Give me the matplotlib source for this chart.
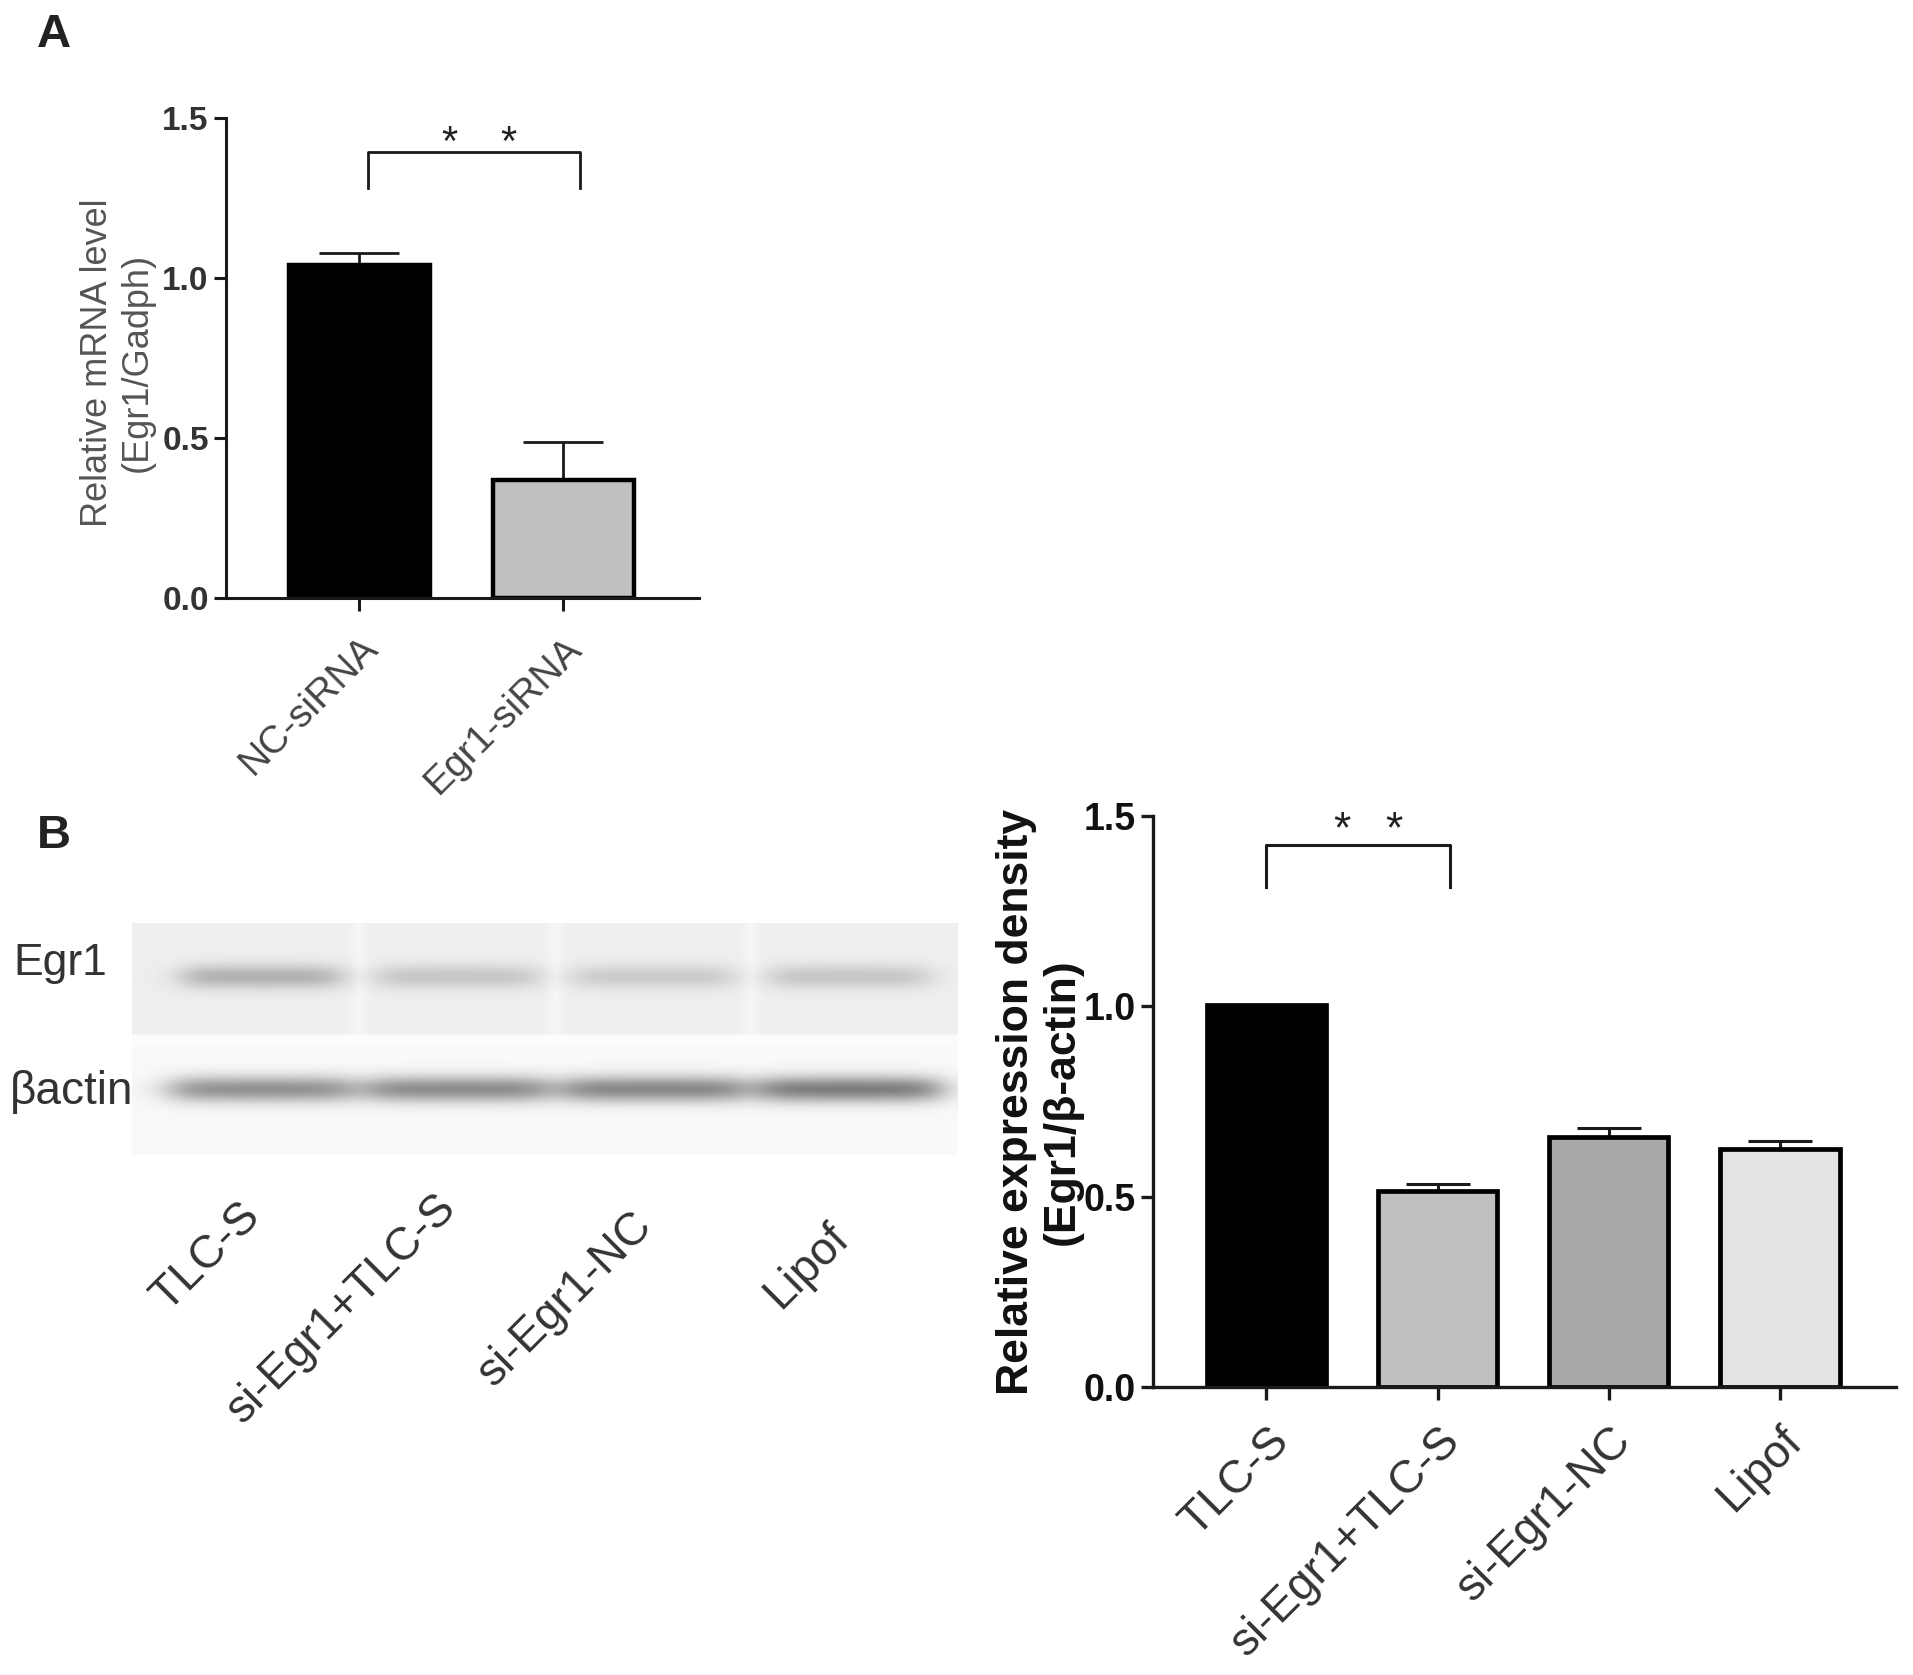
import numpy as np
import matplotlib
matplotlib.use("Agg")
import matplotlib.pyplot as plt
from matplotlib import transforms

plt.rcParams['font.family'] = ['Liberation Sans', 'DejaVu Sans']

# ---------------- data ----------------
a_groups = ["NC-siRNA", "Egr1-siRNA"]
a_values = [1.04, 0.37]
a_errors = [0.037, 0.117]
a_colors = ["#000000", "#c0c0c0"]

b_groups = ["TLC-S", "si-Egr1+TLC-S", "si-Egr1-NC", "Lipof"]
b_values = [1.003, 0.516, 0.656, 0.626]
b_errors = [0.0, 0.017, 0.024, 0.019]
b_colors = ["#000000", "#c0c0c0", "#a9a9a9", "#e3e3e3"]

# western blot band intensities (relative darkness)
blot_rows = ["Egr1", "\u03b2actin"]
egr1_band = [0.24, 0.16, 0.14, 0.16]
actin_band = [0.40, 0.42, 0.44, 0.48]

W, H = 1913, 1675
fig = plt.figure(figsize=(W / 100, H / 100), dpi=100)


def px_axes(left, top, right, bottom):
    return fig.add_axes([left / W, 1 - bottom / H, (right - left) / W, (bottom - top) / H])


def style_axes(ax, lw=2.2):
    for s in ['top', 'right']:
        ax.spines[s].set_visible(False)
    for s in ['left', 'bottom']:
        ax.spines[s].set_linewidth(lw)
        ax.spines[s].set_color('#1a1a1a')
    ax.tick_params(axis='both', direction='out', length=9, width=lw, color='#1a1a1a')


# ---------------- Panel A ----------------
axA = px_axes(226, 118, 699, 598)
xa = np.arange(len(a_groups))
axA.bar(xa, a_values, width=0.69, color=a_colors, edgecolor='black', linewidth=3.2, zorder=2)
axA.errorbar(xa, a_values, yerr=[np.zeros(len(a_errors)), a_errors], fmt='none',
             ecolor='#1a1a1a', elinewidth=2.0, capsize=29, capthick=2.0, zorder=1)
axA.set_xlim(-0.654, 1.666)
axA.set_ylim(0, 1.5)
axA.set_yticks([0.0, 0.5, 1.0, 1.5])
axA.set_yticklabels(["0.0", "0.5", "1.0", "1.5"], fontsize=24, fontweight='bold', color='#333333')
axA.set_xticks(xa)
axA.set_xticklabels(a_groups, rotation=45, ha='right', rotation_mode='anchor',
                    fontsize=28, color='#444444')
style_axes(axA)
axA.tick_params(axis='x', pad=14)
axA.set_ylabel("Relative mRNA level\n(Egr1/Gadph)", fontsize=26, color='#555555', linespacing=1.2)
axA.yaxis.set_label_coords(-0.15, 0.49)
# significance bracket
axA.plot([0.043, 0.043, 1.082, 1.082], [1.281, 1.394, 1.394, 1.281], color='#1a1a1a', lw=2.0,
         clip_on=False)
axA.text(0.443, 1.42, "*", ha='center', va='center', fontsize=30, color='#222222')
axA.text(0.73, 1.42, "*", ha='center', va='center', fontsize=30, color='#222222')

# ---------------- Panel B western blot ----------------
axW = px_axes(132, 923, 958, 1171)
lane_x = np.arange(len(b_groups))
x_lo, x_hi = -0.66, 3.55
nx, ny = 826, 248
xs = np.linspace(x_lo, x_hi, nx)
ys = np.arange(ny)
X, Y = np.meshgrid(xs, ys)

dark = np.zeros_like(X)
row1 = Y < 112
row2 = Y >= 124
dark += np.where(row1, 0.065, 0.0)
dark += np.where(row2 & (Y < 232), 0.025, 0.0)
dark += np.where((Y >= 112) & (Y < 124), 0.012, 0.0)
# light gaps between lanes in the Egr1 strip
for g in [0.5, 1.5, 2.5]:
    dark -= 0.03 * np.exp(-((X - g) / 0.04) ** 2) * row1


def band(xc, half_w, yc, sy, amp, soft=0.05):
    horiz = 1.0 / (1.0 + np.exp((np.abs(X - xc) - half_w) / soft))
    vert = np.exp(-((Y - yc) / sy) ** 2)
    return amp * horiz * vert


for i, xc in enumerate(lane_x):
    dark += band(xc, 0.40, 54, 12, egr1_band[i])
    dark += band(xc, 0.46, 166, 13, actin_band[i], soft=0.06)

dark = np.clip(dark, 0, 1)
axW.imshow(dark, cmap='gray_r', vmin=0, vmax=1, aspect='auto', interpolation='bilinear',
           extent=[x_lo, x_hi, ny, 0])
axW.set_xlim(x_lo, x_hi)
axW.set_ylim(ny, 0)
axW.axis('off')

fig.text(13 / W, 1 - 964 / H, blot_rows[0], ha='left', va='center', fontsize=32, color='#333333')
fig.text(10 / W, 1 - 1092 / H, blot_rows[1], ha='left', va='center', fontsize=33, color='#333333')

trans = transforms.blended_transform_factory(axW.transData, axW.transAxes)
lane_label_y = [-0.095, -0.06, -0.13, -0.18]
for i, name in enumerate(b_groups):
    axW.text(lane_x[i] - 0.12, lane_label_y[i], name, transform=trans, rotation=45,
             rotation_mode='anchor', ha='right', va='top', fontsize=33, color='#333333',
             clip_on=False)

# ---------------- Panel B bar chart ----------------
axB = px_axes(1153, 816, 1896, 1387)
xb = np.arange(len(b_groups))
axB.bar(xb, b_values, width=0.70, color=b_colors, edgecolor='black', linewidth=3.4, zorder=2)
axB.errorbar(xb[1:], b_values[1:], yerr=[np.zeros(len(b_errors) - 1), b_errors[1:]], fmt='none',
             ecolor='#1a1a1a', elinewidth=2.2, capsize=23, capthick=2.2, zorder=1)
axB.set_xlim(-0.663, 3.68)
axB.set_ylim(0, 1.5)
axB.set_yticks([0.0, 0.5, 1.0, 1.5])
axB.set_yticklabels(["0.0", "0.5", "1.0", "1.5"], fontsize=27, fontweight='bold', color='#111111')
axB.set_xticks(xb)
axB.set_xticklabels(b_groups, rotation=45, ha='right', rotation_mode='anchor',
                    fontsize=33, color='#333333')
style_axes(axB, lw=2.4)
axB.tick_params(axis='x', pad=14)
axB.set_ylabel("Relative expression density\n(Egr1/\u03b2-actin)", fontsize=32, fontweight='bold',
               color='#111111', linespacing=1.15)
axB.yaxis.set_label_coords(-0.095, 0.5)
axB.plot([0.0, 0.0, 1.075, 1.075], [1.3125, 1.4235, 1.4235, 1.3125], color='#1a1a1a', lw=2.2,
         clip_on=False)
axB.text(0.44, 1.46, "*", ha='center', va='center', fontsize=32, color='#222222')
axB.text(0.745, 1.46, "*", ha='center', va='center', fontsize=32, color='#222222')

# panel letters
fig.text(37 / W, 1 - 35 / H, "A", ha='left', va='center', fontsize=34, fontweight='bold', color='#222222')
fig.text(37 / W, 1 - 836 / H, "B", ha='left', va='center', fontsize=34, fontweight='bold', color='#222222')

fig.savefig("out.png", dpi=100, facecolor='white')
